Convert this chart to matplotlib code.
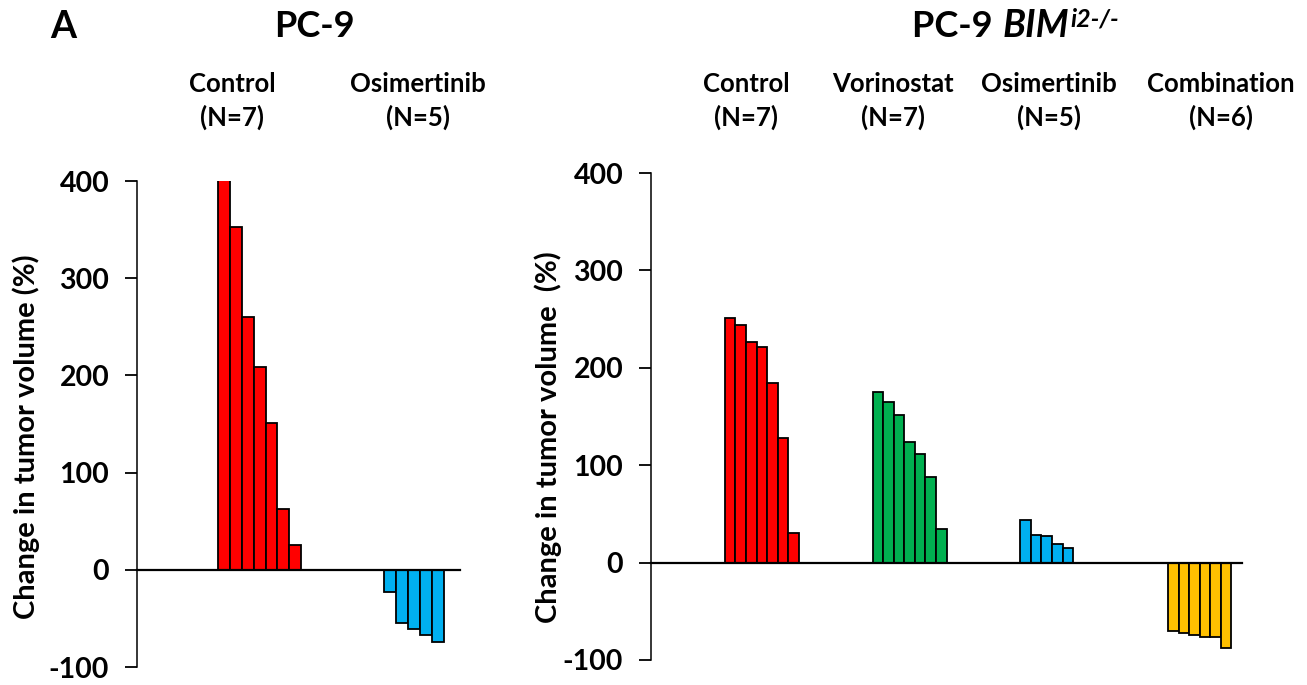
import matplotlib.pyplot as plt

# change in tumour volume (%) per mouse
pc9_groups = ["Control", "Osimertinib"]
pc9_control = [420, 353, 260, 209, 151, 63, 26]   # first bar runs off the top
pc9_osim = [-23, -55, -61, -67, -74]

bim_groups = ["Control", "Vorinostat", "Osimertinib", "Combination"]
bim_control = [251, 244, 226, 221, 184, 128, 30]
bim_vorinostat = [175, 165, 152, 124, 111, 88, 35]
bim_osim = [44, 28, 27, 19, 15]
bim_combo = [-70, -72, -74, -76, -76, -88]

yticks = [-100, 0, 100, 200, 300, 400]

RED, GREEN, BLUE, GOLD = "#FF0000", "#00B050", "#00B0F0", "#FFC000"

plt.rcParams["font.family"] = ["Lato", "DejaVu Sans"]
plt.rcParams["font.weight"] = "bold"
plt.rcParams["axes.unicode_minus"] = False

W, H = 1307, 685
fig = plt.figure(figsize=(W / 100, H / 100), dpi=100)


def px(x, y):
    # pixel position (from top-left) -> figure fraction
    return x / W, 1 - y / H


def waterfall(ax, series, colors, starts, xmax):
    for vals, col, s in zip(series, colors, starts):
        xs = [s + i + 0.5 for i in range(len(vals))]
        ax.bar(xs, vals, width=1, color=col, edgecolor="black", linewidth=1.3)
    ax.set_xlim(0, xmax)
    ax.set_ylim(-100, 400)
    ax.set_yticks(yticks)
    ax.set_xticks([])
    for side in ("top", "right"):
        ax.spines[side].set_visible(False)
    ax.spines["bottom"].set_position(("data", 0))
    ax.spines["bottom"].set_linewidth(1.6)
    ax.spines["left"].set_linewidth(1.1)
    ax.tick_params(axis="y", direction="out", length=9, width=1.3,
                   pad=11, labelsize=20.5)
    for lab in ax.get_yticklabels():
        lab.set_fontweight("bold")


axL = fig.add_axes([137 / W, 18 / H, 323 / W, 486 / H])
waterfall(axL, [pc9_control, pc9_osim], [RED, BLUE], [6.83, 20.83], 27.2)

axR = fig.add_axes([651 / W, 25 / H, 591 / W, 487 / H])
waterfall(axR, [bim_control, bim_vorinostat, bim_osim, bim_combo],
          [RED, GREEN, BLUE, GOLD], [7, 21, 35, 49], 56)

fig.text(*px(26, 437), "Change in tumor volume (%)", rotation=90,
         ha="center", va="center", fontsize=21)
fig.text(*px(548, 437), "Change in tumor volume  (%)", rotation=90,
         ha="center", va="center", fontsize=21)

# group headers
pc9_n = [len(pc9_control), len(pc9_osim)]
bim_n = [len(v) for v in (bim_control, bim_vorinostat, bim_osim, bim_combo)]
for name, n, cx in zip(pc9_groups + bim_groups, pc9_n + bim_n,
                       [232, 418, 746, 893, 1049, 1221]):
    fig.text(*px(cx, 92), name, ha="center", va="baseline", fontsize=18.5)
    fig.text(*px(cx, 126), f"(N={n})", ha="center", va="baseline",
             fontsize=18.5)

# panel letter and titles
fig.text(*px(50, 38), "A", ha="left", va="baseline", fontsize=27)
fig.text(*px(314, 37), "PC-9", ha="center", va="baseline", fontsize=26)
t1 = fig.text(*px(912, 37), "PC-9 ", ha="left", va="baseline", fontsize=26)
bim = plt.annotate("BIM", xy=(1, 0), xycoords=t1, xytext=(1, 0),
                   textcoords="offset points", fontsize=27, style="italic",
                   va="bottom", ha="left", annotation_clip=False)
plt.annotate("i2-/-", xy=(1, 1), xycoords=bim, xytext=(1, -16),
             textcoords="offset points", fontsize=18, style="italic",
             va="bottom", ha="left", annotation_clip=False)

fig.savefig("out.png", dpi=100)
